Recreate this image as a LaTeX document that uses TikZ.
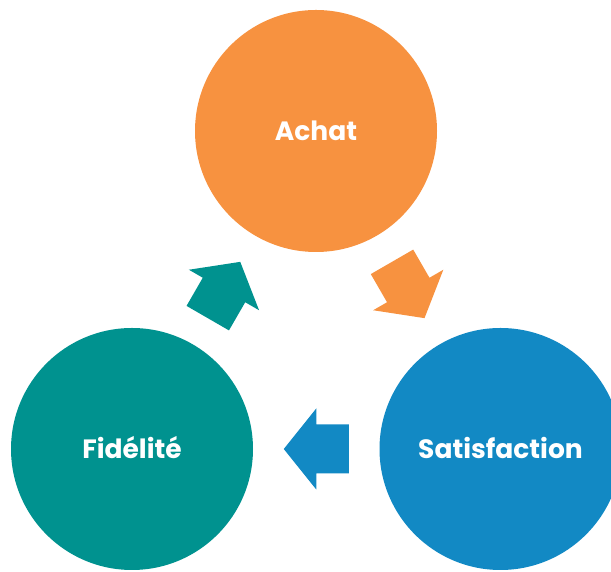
\documentclass[tikz,border=0pt]{standalone}
\usepackage{fontspec}
\setmainfont{Poppins}
\usetikzlibrary{calc}
\definecolor{achatorange}{RGB}{247,146,64}
\definecolor{fideliteteal}{RGB}{0,146,143}
\definecolor{satisblue}{RGB}{18,137,196}
\tikzset{
  x=1pt, y=1pt,
  stage/.style={circle, minimum size=242pt, inner sep=0pt, text=white,
    font=\fontsize{26.5}{29}\selectfont\bfseries, text height=19pt, text depth=0pt},
  pics/blockarrow/.style={code={
    \fill[#1] (-32.5,-24.5) -- (0,-24.5) -- (0,-40.5) -- (32.5,0)
      -- (0,40.5) -- (0,24.5) -- (-32.5,24.5) -- cycle;
  }}
}
\begin{document}
\begin{tikzpicture}
\useasboundingbox (0,0) rectangle (611,572);
% the three stages of the cycle
\node[stage, fill=achatorange] (A) at (316,441) {Achat};
\node[stage, fill=satisblue] (S) at (500.5,123) {Satisfaction};
\node[stage, fill=fideliteteal] (F) at (132,123) {Fidélité};
% block arrows halfway between the stages
\pic[rotate=-60] at ($(A)!0.5!(S)$) {blockarrow=achatorange};
\pic[rotate=180] at ($(S)!0.5!(F)$) {blockarrow=satisblue};
\pic[rotate=60] at ($(F)!0.5!(A)$) {blockarrow=fideliteteal};
\end{tikzpicture}
\end{document}
